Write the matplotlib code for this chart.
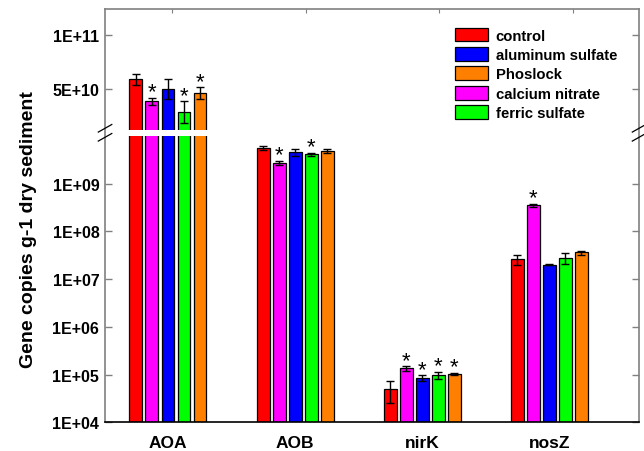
import numpy as np
import matplotlib
matplotlib.use("Agg")
import matplotlib.pyplot as plt
from matplotlib.patches import Patch
from matplotlib.lines import Line2D
from matplotlib.ticker import FixedLocator, FixedFormatter, NullLocator

plt.rcParams["font.family"] = ["Liberation Sans", "DejaVu Sans"]

# ---- data -------------------------------------------------------------
genes = ["AOA", "AOB", "nirK", "nosZ"]

control = [5.92e10, 5.6e9, 4.9e4, 2.6e7]
control_err = [5.0e9, 0.65e9, 2.4e4, 6.0e6]

calcium_nitrate = [3.9e10, 2.7e9, 1.34e5, 3.5e8]
calcium_nitrate_err = [3.0e9, 0.3e9, 1.4e4, 3.0e7]

aluminum_sulfate = [5.0e10, 4.6e9, 8.5e4, 2.0e7]
aluminum_sulfate_err = [9.0e9, 0.75e9, 1.2e4, 0.6e6]

ferric_sulfate = [2.9e10, 4.06e9, 9.7e4, 2.8e7]
ferric_sulfate_err = [1.0e10, 0.37e9, 1.6e4, 7.0e6]

phoslock = [4.63e10, 4.8e9, 1.03e5, 3.6e7]
phoslock_err = [5.5e9, 0.5e9, 6.0e3, 3.5e6]

# significance markers (per gene)
control_sig = [False, False, False, False]
calcium_nitrate_sig = [True, True, True, True]
aluminum_sulfate_sig = [False, False, True, False]
ferric_sulfate_sig = [True, True, True, False]
phoslock_sig = [True, False, True, False]

ytick_values = [1e4, 1e5, 1e6, 1e7, 1e8, 1e9, 5e10, 1e11]
ytick_labels = ["1E+04", "1E+05", "1E+06", "1E+07", "1E+08", "1E+09",
                "5E+10", "1E+11"]

# ---- broken axis: log below the break, linear above -------------------
LOG_TOP = 1e10      # top of logarithmic part
LIN_BOTTOM = 1.3e10  # bottom of linear part
GAP = 6.0 / 47.7     # gap height, in decades
K = 1.092e-9 / 47.7  # decades per unit in the linear part
Y_MIN, Y_MAX = 1e4, 1.235e11


def fwd(y):
    y = np.asarray(y, dtype=float)
    lo = np.log10(np.clip(y, 1e-300, None)) - 4.0
    mid = 6.0 + (y - LOG_TOP) / (LIN_BOTTOM - LOG_TOP) * GAP
    hi = 6.0 + GAP + (y - LIN_BOTTOM) * K
    return np.where(y <= LOG_TOP, lo, np.where(y < LIN_BOTTOM, mid, hi))


def inv(t):
    t = np.asarray(t, dtype=float)
    lo = 10.0 ** (np.clip(t, -300, 6.0) + 4.0)
    mid = LOG_TOP + (t - 6.0) / GAP * (LIN_BOTTOM - LOG_TOP)
    hi = LIN_BOTTOM + (t - 6.0 - GAP) / K
    return np.where(t <= 6.0, lo, np.where(t < 6.0 + GAP, mid, hi))


fig = plt.figure(figsize=(6.44, 4.52), dpi=100)
ax = fig.add_axes([0.1635, 0.0635, 0.8292, 0.9144])
ax.set_yscale("function", functions=(fwd, inv))
ax.set_ylim(Y_MIN, Y_MAX)
ax.set_xlim(0.5066, 4.709)

series = [
    ("control", control, control_err, control_sig, "#ff0000"),
    ("calcium nitrate", calcium_nitrate, calcium_nitrate_err, calcium_nitrate_sig, "#ff00ff"),
    ("aluminum sulfate", aluminum_sulfate, aluminum_sulfate_err, aluminum_sulfate_sig, "#0000ff"),
    ("ferric sulfate", ferric_sulfate, ferric_sulfate_err, ferric_sulfate_sig, "#00ff00"),
    ("Phoslock", phoslock, phoslock_err, phoslock_sig, "#ff8000"),
]

x = np.arange(1, len(genes) + 1)
bar_w = 0.102
step = 0.126
colors = {}
for i, (name, vals, errs, sig, color) in enumerate(series):
    xi = x + (i - 2) * step
    vals = np.asarray(vals)
    errs = np.asarray(errs)
    colors[name] = color
    ax.bar(xi, vals - Y_MIN, bottom=Y_MIN, width=bar_w, color=color,
           edgecolor="black", linewidth=0.9, zorder=1)
    ax.errorbar(xi, vals, yerr=errs, fmt="none", ecolor="black",
                elinewidth=1.0, capsize=3, capthick=1.0, zorder=2)
    for xs, v, e, s in zip(xi, vals, errs, sig):
        if s:
            ax.annotate("*", xy=(xs, v + e), xytext=(0, 0.3),
                        textcoords="offset points", ha="center",
                        va="baseline", fontsize=16, zorder=3)

# white band through the bars at the break
ax.axhspan(LOG_TOP, LIN_BOTTOM, color="white", zorder=1.5, lw=0)

# y axis ticks
ax.yaxis.set_major_locator(FixedLocator(ytick_values))
ax.yaxis.set_major_formatter(FixedFormatter(ytick_labels))
ax.yaxis.set_minor_locator(NullLocator())
ax.tick_params(axis="y", which="major", direction="in", length=5,
               width=1.0, color="#808080", left=True, right=True,
               labelsize=11.5, pad=4.3)
for lab in ax.get_yticklabels():
    lab.set_fontweight("bold")

# x axis labels
ax.set_xticks(x)
ax.set_xticklabels(genes, fontsize=12.5, fontweight="bold")
ax.tick_params(axis="x", length=0, pad=9)

ax.set_ylabel("Gene copies g-1 dry sediment", fontsize=14,
              fontweight="bold")
ax.yaxis.set_label_coords(-0.128, 0.468)

for side in ("left", "top", "right"):
    ax.spines[side].set_color("#808080")
    ax.spines[side].set_linewidth(1.2)
ax.spines["bottom"].set_color("black")
ax.spines["bottom"].set_linewidth(1.2)

# top axis tick marks
ax_top = ax.twiny()
ax_top.set_xlim(0.5, 4.5)
ax_top.set_xticks([1, 2, 3, 4])
ax_top.tick_params(axis="x", top=True, direction="in", length=3,
                   color="#808080", labeltop=False)
for sp in ax_top.spines.values():
    sp.set_visible(False)

# break marks on both vertical spines
t_lo, t_hi = float(fwd(Y_MIN)), float(fwd(Y_MAX))
gap_c = (6.0 + GAP / 2 - t_lo) / (t_hi - t_lo)
h_ax = 413.3
w_ax = 534.0
for xc in (0.0, 1.0):
    for dy in (4.5, -4.5):
        yc = gap_c + dy / h_ax
        ax.add_line(Line2D([xc - 7 / w_ax, xc + 6.5 / w_ax],
                           [yc - 3.8 / h_ax, yc + 3.8 / h_ax],
                           transform=ax.transAxes, color="black",
                           lw=0.9, clip_on=False, zorder=5))

# legend
legend_order = ["control", "aluminum sulfate", "Phoslock",
                "calcium nitrate", "ferric sulfate"]
handles = [Patch(facecolor=colors[n], edgecolor="black", linewidth=0.9)
           for n in legend_order]
leg = fig.legend(handles, legend_order, loc="upper left",
                 bbox_to_anchor=(455 / 644, 1 - 28.5 / 452),
                 bbox_transform=fig.transFigure, frameon=False,
                 borderpad=0, borderaxespad=0, handlelength=2.23,
                 handleheight=1.06, handletextpad=0.5, labelspacing=0.3,
                 prop={"size": 10.7, "weight": "bold"})

fig.savefig("out.png", dpi=100)
